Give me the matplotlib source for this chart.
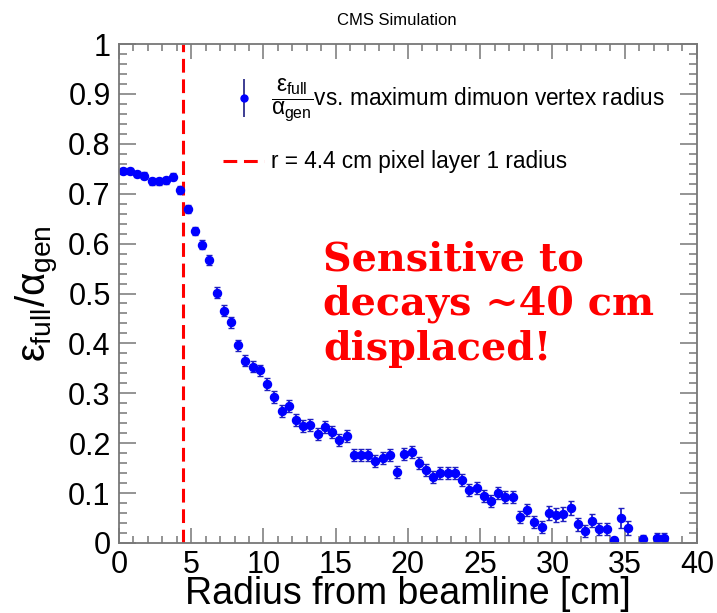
import matplotlib
matplotlib.use('Agg')
import matplotlib.pyplot as plt
import matplotlib.ticker as mticker
from matplotlib.lines import Line2D
from matplotlib.legend_handler import HandlerTuple

plt.rcParams['font.family'] = ['Liberation Sans', 'DejaVu Sans']
plt.rcParams['mathtext.fontset'] = 'custom'
plt.rcParams['mathtext.rm'] = 'Liberation Sans'
plt.rcParams['mathtext.it'] = 'Liberation Sans'
plt.rcParams['mathtext.fallback'] = 'stixsans'

# bin centres [cm], efficiency ratio and its stat. error
radius = [0.25, 0.75, 1.25, 1.75, 2.25, 2.75, 3.25, 3.75, 4.25, 4.75,
          5.25, 5.75, 6.25, 6.75, 7.25, 7.75, 8.25, 8.75, 9.25, 9.75,
          10.25, 10.75, 11.25, 11.75, 12.25, 12.75, 13.25, 13.75, 14.25, 14.75,
          15.25, 15.75, 16.25, 16.75, 17.25, 17.75, 18.25, 18.75, 19.25, 19.75,
          20.25, 20.75, 21.25, 21.75, 22.25, 22.75, 23.25, 23.75, 24.25, 24.75,
          25.25, 25.75, 26.25, 26.75, 27.25, 27.75, 28.25, 28.75, 29.25, 29.75,
          30.25, 30.75, 31.25, 31.75, 32.25, 32.75, 33.25, 33.75, 34.25, 34.75,
          35.25, 36.25, 37.25, 37.75]
eff = [0.746, 0.746, 0.739, 0.736, 0.725, 0.725, 0.727, 0.734, 0.707, 0.669,
       0.625, 0.598, 0.567, 0.502, 0.465, 0.442, 0.396, 0.365, 0.353, 0.346,
       0.319, 0.293, 0.265, 0.275, 0.246, 0.235, 0.237, 0.218, 0.232, 0.222,
       0.207, 0.215, 0.176, 0.176, 0.176, 0.165, 0.170, 0.176, 0.143, 0.178,
       0.182, 0.161, 0.146, 0.133, 0.141, 0.141, 0.141, 0.126, 0.106, 0.110,
       0.094, 0.085, 0.100, 0.093, 0.093, 0.053, 0.067, 0.043, 0.033, 0.061,
       0.056, 0.059, 0.071, 0.038, 0.024, 0.045, 0.029, 0.029, 0.006, 0.051,
       0.031, 0.009, 0.011, 0.011]
err = [0.006, 0.006, 0.006, 0.007, 0.007, 0.007, 0.007, 0.007, 0.008, 0.008,
       0.008, 0.009, 0.010, 0.011, 0.011, 0.011, 0.011, 0.011, 0.011, 0.011,
       0.012, 0.012, 0.012, 0.012, 0.012, 0.012, 0.012, 0.012, 0.012, 0.012,
       0.012, 0.012, 0.012, 0.012, 0.012, 0.012, 0.012, 0.012, 0.012, 0.012,
       0.012, 0.012, 0.012, 0.012, 0.012, 0.012, 0.012, 0.012, 0.012, 0.012,
       0.012, 0.012, 0.012, 0.012, 0.012, 0.012, 0.012, 0.012, 0.012, 0.014,
       0.014, 0.014, 0.014, 0.013, 0.012, 0.013, 0.012, 0.012, 0.006, 0.020,
       0.014, 0.008, 0.010, 0.010]
pixel_layer1 = 4.4

fig = plt.figure(figsize=(7.17, 6.13), dpi=100)
ax = fig.add_axes([0.166, 0.1142, 0.806, 0.814])

ax.errorbar(radius, eff, yerr=err, fmt='o', color='blue', ms=5.8,
            ecolor='#2020c0', elinewidth=1.3, capsize=2.2, capthick=1.0)
ax.axvline(pixel_layer1, color='red', ls=(0, (4.5, 2.2)), lw=2.2)

ax.set_xlim(0, 40)
ax.set_ylim(0, 1)
ax.xaxis.set_major_locator(mticker.MultipleLocator(5))
ax.xaxis.set_minor_locator(mticker.MultipleLocator(1))
ax.yaxis.set_major_locator(mticker.MultipleLocator(0.1))
ax.yaxis.set_minor_locator(mticker.MultipleLocator(0.02))
ax.yaxis.set_major_formatter(mticker.FuncFormatter(lambda v, p: '%g' % round(v, 2)))
ax.tick_params(which='both', direction='in', top=True, right=True,
               color='#777777', labelsize=22, width=1.1)
ax.tick_params(axis='x', which='major', length=11, pad=5)
ax.tick_params(axis='x', which='minor', length=5)
ax.tick_params(axis='y', which='major', length=12, pad=6)
ax.tick_params(axis='y', which='minor', length=6)
for s in ax.spines.values():
    s.set_color('#777777')
    s.set_linewidth(1.3)

ax.set_xlabel('Radius from beamline [cm]', fontsize=27)
ax.xaxis.set_label_coords(0.5, -0.067)
ax.set_ylabel(r'$\epsilon_{\rm full}/\alpha_{\rm gen}$', fontsize=29)
ax.yaxis.set_label_coords(-0.1, 0.5)

fig.text(0.554, 0.967, 'CMS Simulation', ha='center', va='center', fontsize=12)

ax.text(0.353, 0.607, 'Sensitive to\ndecays ~40 cm\ndisplaced!', transform=ax.transAxes,
        family='DejaVu Serif', fontweight='bold', color='red', fontsize=28.6,
        va='top', ha='left', linespacing=1.22)

h_eff = (Line2D([], [], ls='none', marker='|', ms=28, mew=1.2, color='#1c1c80'),
         Line2D([], [], ls='none', marker='o', ms=5, color='blue'))
h_line = Line2D([], [], color='red', ls=(0, (4.5, 2.2)), lw=2.2)
ax.legend([h_eff, h_line],
          [r'$\dfrac{\epsilon_{\rm full}}{\alpha_{\rm gen}}$vs. maximum dimuon vertex radius',
           'r = 4.4 cm pixel layer 1 radius'],
          handler_map={tuple: HandlerTuple(ndivide=1)},
          loc='upper left', bbox_to_anchor=(0.165, 0.952), frameon=False,
          fontsize=16.3, handlelength=1.8, handletextpad=0.3, labelspacing=1.15,
          borderaxespad=0)

fig.savefig('out.png', dpi=100)
